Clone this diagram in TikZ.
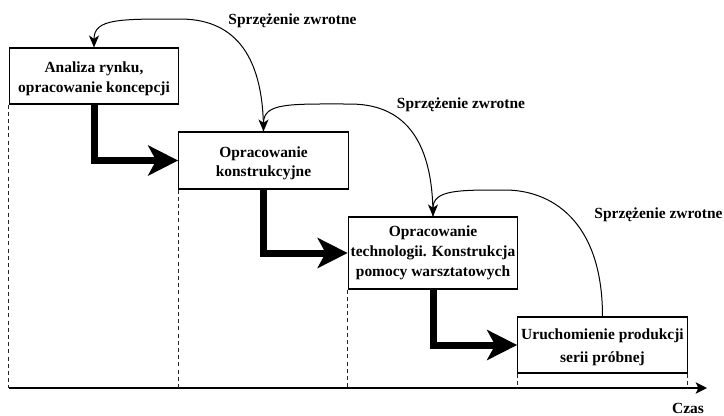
\documentclass[tikz,border=0pt]{standalone}
\usepackage{fontspec}
\setmainfont{Liberation Serif}
\usetikzlibrary{arrows.meta}

\tikzset{
  stagebox/.style={draw, line width=0.8pt, fill=white, align=center,
    inner xsep=1pt, inner ysep=0pt, minimum width=127.2pt,
    font=\fontsize{11.6pt}{14.6pt}\selectfont\bfseries},
  lbl/.style={inner sep=0pt, font=\fontsize{11.6pt}{14pt}\selectfont\bfseries},
  flow/.style={line width=5.25pt,
    -{Stealth[length=22.5pt,width=22.5pt,inset=6pt]}},
  feedback/.style={line width=0.75pt,
    -{Stealth[length=9pt,width=7.5pt,inset=2.5pt]}},
  guide/.style={line width=0.8pt, dash pattern=on 3pt off 2.4pt, black!85},
  timeaxis/.style={line width=1pt,
    -{Stealth[length=8.5pt,width=8.5pt,inset=2pt]}}
}

\begin{document}
\begin{tikzpicture}[x=0.75pt, y=-0.75pt]
\useasboundingbox (0,0) rectangle (724,415);

% process stages (a strut on the first line sets the text slightly lower)
\node[stagebox, minimum height=42pt] (b1) at (94,76)
  {\rule{0pt}{12pt}Analiza rynku,\\opracowanie koncepcji};
\node[stagebox, minimum height=42.75pt] (b2) at (263.5,160.5)
  {\rule{0pt}{12pt}Opracowanie\\konstrukcyjne};
\node[stagebox, minimum height=54pt,
  font=\fontsize{11.6pt}{15pt}\selectfont\bfseries] (b3) at (433,253)
  {Opracowanie\\technologii. Konstrukcja\\pomocy warsztatowych};
\node[stagebox, minimum height=42pt,
  font=\fontsize{11.6pt}{17pt}\selectfont\bfseries] (b4) at (602.5,345)
  {\rule{0pt}{11pt}Uruchomienie produkcji\\serii próbnej};

% time axis
\coordinate (o) at (9,388);
\coordinate (e) at (707,388);
\draw[timeaxis] (o) -- (e);
\node[lbl, anchor=base] (czas) at (688,413) {Czas};

% dashed guides from the stage edges down to the axis
\draw[guide] (b1.south west) -- (b1.south west |- o);
\draw[guide] (b2.south west) -- (b2.south west |- o);
\draw[guide] (b3.south west) -- (b3.south west |- o);
\draw[guide] (b4.south west) -- (b4.south west |- o);
\draw[guide] (b4.south east) -- (b4.south east |- o);

% main flow between stages
\draw[flow] (b1.south) |- (b2.west);
\draw[flow] (b2.south) |- (b3.west);
\draw[flow] (b3.south) |- (b4.west);

% feedback loops
\coordinate (pA) at (180,19);
\coordinate (pB) at (350,104);
\coordinate (pC) at (505,190);
\draw[feedback] (b2.north) .. controls +(0,-82) and +(50,0) .. (pA)
  .. controls +(-60,0) and +(0,-29) .. (b1.north);
\draw[feedback] (b3.north) .. controls +(0,-82) and +(50,0) .. (pB)
  .. controls +(-60,0) and +(0,-29) .. (b2.north);
\draw[feedback] (b4.north) .. controls +(0,-97) and +(45,0) .. (pC)
  .. controls +(-45,0) and +(0,-27) .. (b3.north);

\node[lbl, anchor=base] (l1) at (292.5,24) {Sprzężenie zwrotne};
\node[lbl, anchor=base] (l2) at (461,108) {Sprzężenie zwrotne};
\node[lbl, anchor=base] (l3) at (658.5,218) {Sprzężenie zwrotne};
\end{tikzpicture}
\end{document}
